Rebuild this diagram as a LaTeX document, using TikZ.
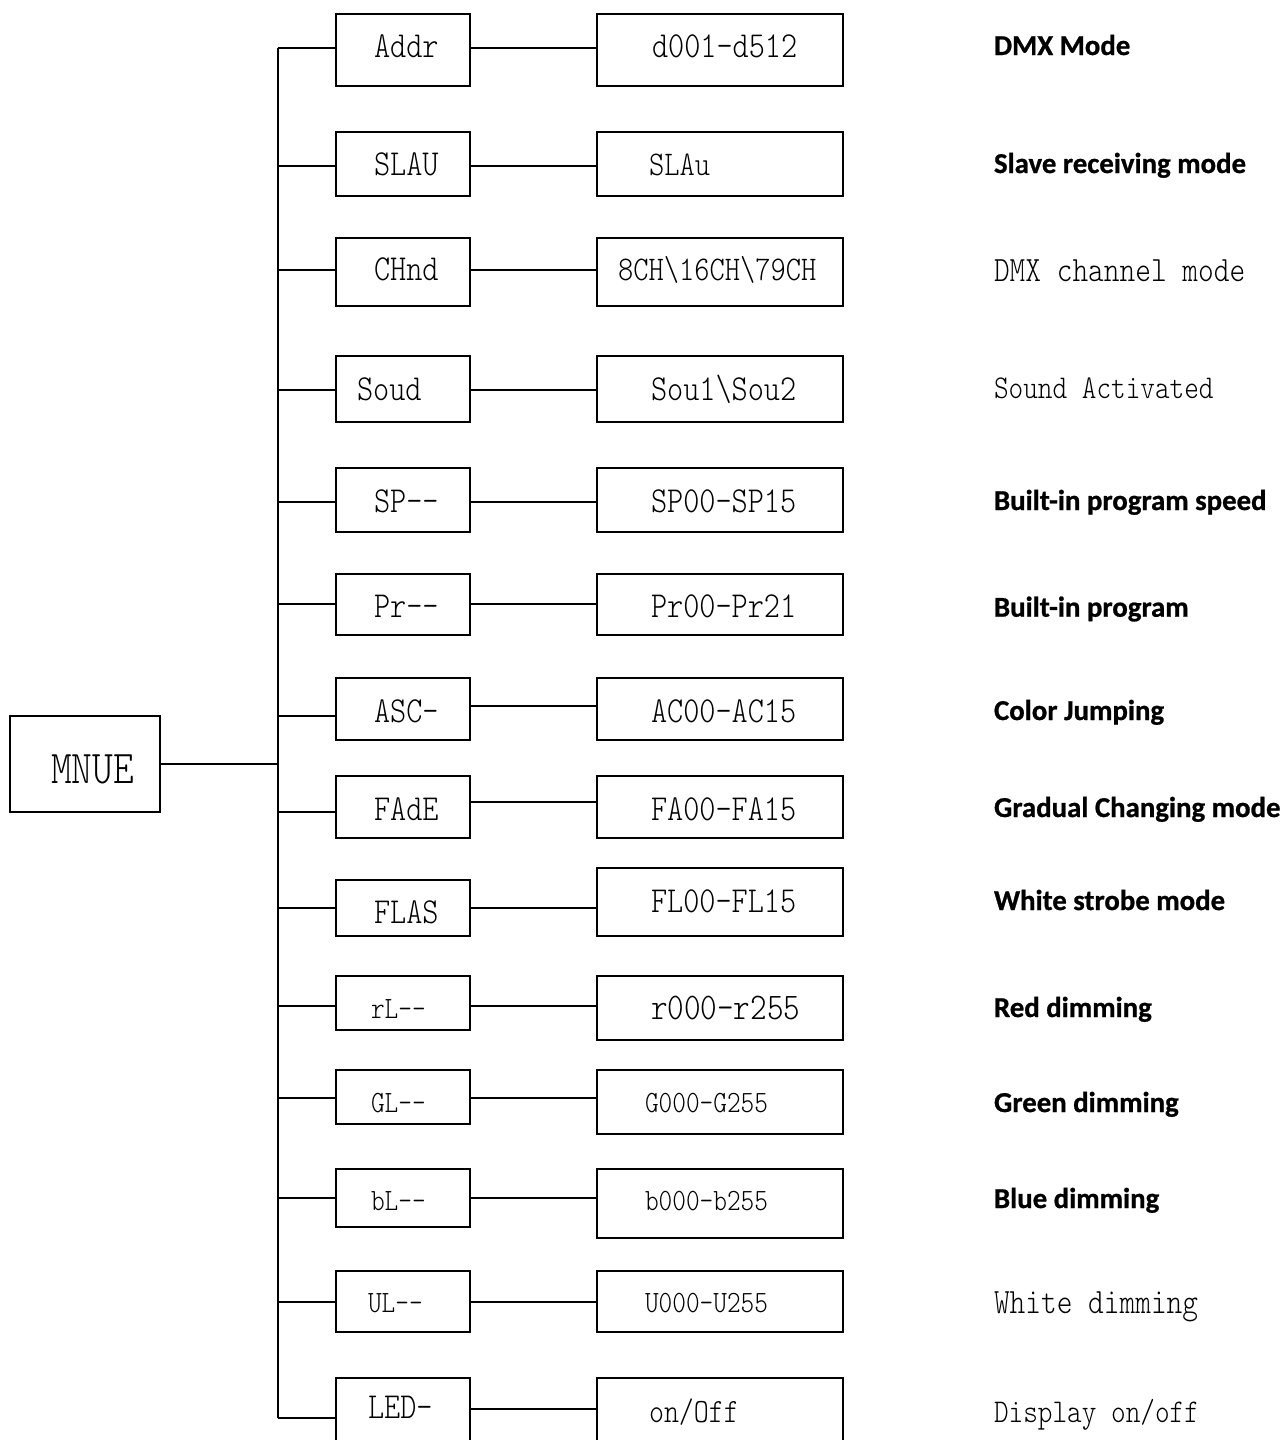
\documentclass[tikz,border=0pt]{standalone}
\usepackage{fontspec}
\newfontfamily\simfont[FakeStretch=0.84]{lmmonolt10-regular.otf}
\newfontfamily\calfont[FakeBold=0.8]{Carlito}
\begin{document}
\begin{tikzpicture}[x=0.5pt,y=-0.5pt,line width=1pt,
  box/.style={draw, rectangle, inner sep=0pt, minimum width=#1},
  lab/.style={anchor=base west, inner sep=0pt},
  big/.style={lab, font=\simfont\fontsize{18.3pt}{18.3pt}\selectfont},
  mid/.style={lab, font=\simfont\fontsize{17.3pt}{17.3pt}\selectfont},
  sml/.style={lab, font=\simfont\fontsize{15.5pt}{15.5pt}\selectfont},
  desc/.style={lab, font=\simfont\fontsize{17.8pt}{17.8pt}\selectfont},
  descs/.style={lab, font=\simfont\fontsize{16.6pt}{16.6pt}\selectfont},
  bdesc/.style={lab, font=\calfont\bfseries\fontsize{14.4pt}{14.4pt}\selectfont}]
\useasboundingbox (0,0) rectangle (1288,1440);

% main box
\node[box=75pt, minimum height=48pt] (menu) at (85,764) {};
\node[lab, font=\simfont\fontsize{23.5pt}{23.5pt}\selectfont] (menut) at (50,783) {MNUE};

% trunk
\coordinate (ttop) at (277.7,48);
\coordinate (tbot) at (277.7,1418.3);
\draw (ttop) -- (tbot);
\draw (menu.east) -- (menu.east -| ttop);

% rows: index / left top / left bottom / right top / right bottom / branch y / middle y
\foreach \i/\lt/\lb/\rt/\rb/\ly/\my in {
  1/14/86/14/86/48/48,
  2/132/196/132/196/165.7/165.7,
  3/238/305.7/238/305.7/270/270,
  4/356/421.7/356/421.7/390/390,
  5/468/531.7/468/531.7/502/502,
  6/574/635.3/574/635.3/604.3/604.3,
  7/678/740/678/740/716.3/706,
  8/776.3/838.3/776.3/838.3/812.3/802.3,
  9/880/936/868.3/936/907.7/907.7,
  10/976/1030.3/976/1040.3/1006.3/1006.3,
  11/1070/1124.3/1070/1134/1098.3/1098.3,
  12/1168.7/1226.7/1168.7/1238/1198.3/1198.3,
  13/1270.7/1332.3/1270.7/1332.3/1301.7/1301.7,
  14/1378/1456/1378/1456/1418.3/1409}{
  \pgfmathsetmacro\lh{(\lb-\lt)/2}
  \pgfmathsetmacro\lc{(\lb+\lt)/2}
  \pgfmathsetmacro\rh{(\rb-\rt)/2}
  \pgfmathsetmacro\rc{(\rb+\rt)/2}
  \node[box=67.15pt, minimum height=\lh pt] (l\i) at (402.85,\lc) {};
  \node[box=123pt, minimum height=\rh pt] (r\i) at (720,\rc) {};
  \coordinate (t\i) at (277.7,\ly);
  \coordinate (m\i) at (600,\my);
  \draw (t\i) -- (t\i -| l\i.west);
  \draw (l\i.east |- m\i) -- (r\i.west |- m\i);
}

% left box labels
\node[big] (lt1) at (373,57) {Addr};
\node[big] (lt2) at (373,175) {SLAU};
\node[big] (lt3) at (373,280) {CHnd};
\node[big] (lt4) at (356,400) {Soud};
\node[big] (lt5) at (373,512) {SP-{}-};
\node[big] (lt6) at (373,617) {Pr-{}-};
\node[big] (lt7) at (373,722) {ASC-};
\node[big] (lt8) at (373,820) {FAdE};
\node[big] (lt9) at (373,923) {FLAS};
\node[sml] (lt10) at (370,1018) {rL-{}-};
\node[sml] (lt11) at (370,1112) {GL-{}-};
\node[sml] (lt12) at (370,1210) {bL-{}-};
\node[sml] (lt13) at (367,1312) {UL-{}-};
\node[big] (lt14) at (367,1418) {LED-};

% right box labels
\node[big] (rt1) at (651,57) {d001-d512};
\node[mid] (rt2) at (648,175) {SLAu};
\node[mid] (rt3) at (617,280) {8CH\textbackslash 16CH\textbackslash 79CH};
\node[big] (rt4) at (650,400) {Sou1\textbackslash Sou2};
\node[big] (rt5) at (650,512) {SP00-SP15};
\node[big] (rt6) at (650,617) {Pr00-Pr21};
\node[big] (rt7) at (650,722) {AC00-AC15};
\node[big] (rt8) at (650,820) {FA00-FA15};
\node[big] (rt9) at (650,912) {FL00-FL15};
\node[lab, font=\simfont\fontsize{18.8pt}{18.8pt}\selectfont] (rt10) at (650,1019) {r000-r255};
\node[sml] (rt11) at (644,1112) {G000-G255};
\node[sml] (rt12) at (644,1210) {b000-b255};
\node[sml] (rt13) at (644,1312) {U000-U255};
\node[lab, font=\simfont\fontsize{17pt}{17pt}\selectfont] (rt14) at (648,1422) {on/Off};

% descriptions
\node[bdesc] (d1) at (993,55) {DMX Mode};
\node[bdesc] (d2) at (993,173) {Slave receiving mode};
\node[desc] (d3) at (993,281) {DMX channel mode};
\node[descs] (d4) at (993,398) {Sound Activated};
\node[bdesc] (d5) at (993,510) {Built-in program speed};
\node[bdesc] (d6) at (993,616.7) {Built-in program};
\node[bdesc] (d7) at (993,720) {Color Jumping};
\node[bdesc] (d8) at (993,817) {Gradual Changing mode};
\node[bdesc] (d9) at (993,910) {White strobe mode};
\node[bdesc] (d10) at (993,1017) {Red dimming};
\node[bdesc] (d11) at (993,1112) {Green dimming};
\node[bdesc] (d12) at (993,1208) {Blue dimming};
\node[desc] (d13) at (993,1313) {White dimming};
\node[descs] (d14) at (993,1422) {Display on/off};
\end{tikzpicture}
\end{document}
